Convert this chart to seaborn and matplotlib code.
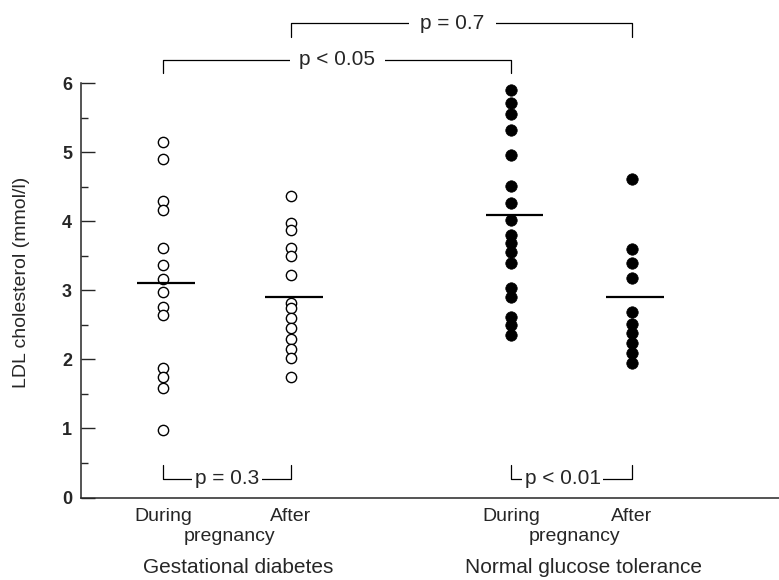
import matplotlib
matplotlib.use("Agg")
import matplotlib.pyplot as plt
import seaborn as sns
import pandas as pd

# ---------------- data ----------------
groups = ["Gestational diabetes", "Normal glucose tolerance"]
periods = ["During", "After"]
gdm_during = [5.15, 4.91, 4.30, 4.17, 3.61, 3.37, 3.16, 2.98, 2.76, 2.64, 1.87, 1.74, 1.58, 0.98]
gdm_after = [4.37, 3.97, 3.87, 3.61, 3.50, 3.22, 2.82, 2.74, 2.60, 2.45, 2.30, 2.15, 2.02, 1.75]
ngt_during = [5.90, 5.71, 5.56, 5.32, 4.96, 4.51, 4.27, 4.02, 3.80, 3.68, 3.56, 3.39, 3.03, 2.91, 2.62, 2.50, 2.35]
ngt_after = [4.61, 3.60, 3.39, 3.18, 2.68, 2.51, 2.38, 2.24, 2.10, 1.95]
group_means = [3.10, 2.90, 4.09, 2.91]
p_labels = ["p < 0.05", "p = 0.7", "p = 0.3", "p < 0.01"]
y_ticks = [0, 1, 2, 3, 4, 5, 6]
y_label = "LDL cholesterol (mmol/l)"

# ---------------- layout ----------------
xpos = [1.0, 2.0, 3.72, 4.66]   # column positions
series = [gdm_during, gdm_after, ngt_during, ngt_after]
col_group = [0, 0, 1, 1]

rows = []
for i, vals in enumerate(series):
    for v in vals:
        rows.append({"x": xpos[i], "value": v, "group": groups[col_group[i]],
                     "period": periods[i % 2]})
df = pd.DataFrame(rows)

sns.set_theme(style="ticks")
plt.rcParams["font.family"] = ["Liberation Sans", "DejaVu Sans"]

W, H = 779, 580
fig = plt.figure(figsize=(W / 100, H / 100), dpi=100)
ax = fig.add_axes([81 / W, (H - 497.5) / H, 698 / W, (497.5 - 83.3) / H])

gdm = df[df["group"] == groups[0]]
ngt = df[df["group"] == groups[1]]
sns.scatterplot(data=gdm, x="x", y="value", ax=ax, marker="o", s=55,
                facecolor="white", edgecolor="black", linewidth=1.0, legend=False, zorder=3)
sns.scatterplot(data=ngt, x="x", y="value", ax=ax, marker="o", s=68,
                color="black", edgecolor="black", linewidth=0.5, legend=False, zorder=3)

# mean lines
for xp, m in zip(xpos, group_means):
    ax.hlines(m, xp - 0.20, xp + 0.25, color="black", lw=1.6, zorder=4)

ax.set_xlim(0.36, 5.81)
ax.set_ylim(0, 6)
ax.set_yticks(y_ticks)
ax.set_yticklabels([str(t) for t in y_ticks], fontsize=13, fontweight="bold")
ax.set_yticks([0.5 + i for i in range(6)], minor=True)
ax.tick_params(axis="y", which="major", direction="in", length=10, width=1.0, pad=6.5)
ax.tick_params(axis="y", which="minor", direction="in", length=5, width=1.0)
ax.set_xticks([])
ax.set_xlabel("")
ax.set_ylabel("")
sns.despine(ax=ax, top=True, right=True)
ax.spines["left"].set_linewidth(1.1)
ax.spines["bottom"].set_linewidth(1.1)

fig.text(22 / W, 1 - 282 / H, y_label, rotation=90, ha="center", va="center", fontsize=14)

# x labels
for i, xp in enumerate(xpos):
    ax.text(xp, -0.27, periods[i % 2], ha="center", va="center", fontsize=14, clip_on=False)
ax.text((xpos[0] + xpos[1]) / 2 + 0.02, -0.57, "pregnancy", ha="center", va="center", fontsize=14, clip_on=False)
ax.text((xpos[2] + xpos[3]) / 2 + 0.02, -0.57, "pregnancy", ha="center", va="center", fontsize=14, clip_on=False)
ax.text((xpos[0] + xpos[1]) / 2 + 0.09, -1.02, groups[0], ha="center", va="center", fontsize=15, clip_on=False)
ax.text((xpos[2] + xpos[3]) / 2 + 0.09, -1.02, groups[1], ha="center", va="center", fontsize=15, clip_on=False)

# brackets
def bracket(x1, x2, yline, yend, label, xt, pad):
    ax.plot([x1, x1, x2, x2], [yend, yline, yline, yend], color="black", lw=0.9, clip_on=False)
    ax.text(xt, yline, label, ha="center", va="center", fontsize=15, clip_on=False,
            bbox=dict(boxstyle=f"square,pad={pad}", fc="white", ec="none"))

bracket(xpos[0], xpos[2], 6.34, 6.15, p_labels[0], 2.36, 0.45)
bracket(xpos[1], xpos[3], 6.87, 6.67, p_labels[1], 3.26, 0.55)
bracket(xpos[0], xpos[1], 0.27, 0.47, p_labels[2], 1.5, 0.12)
bracket(xpos[2], xpos[3], 0.27, 0.47, p_labels[3], 4.12, 0.12)

fig.savefig("out.png", dpi=100)
